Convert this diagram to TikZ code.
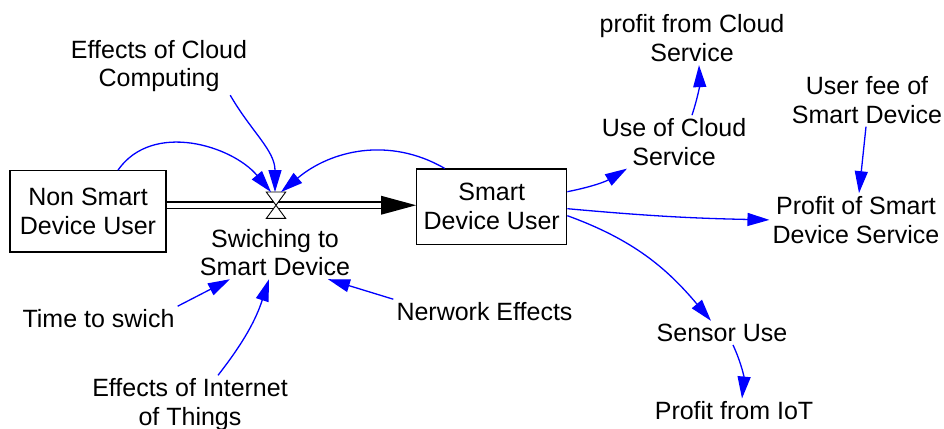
\documentclass[tikz,border=0pt]{standalone}
\usepackage{fontspec}
\setmainfont{Liberation Sans}
\usetikzlibrary{arrows.meta}

\begin{document}
\begin{tikzpicture}[x=1pt, y=1pt,
    every node/.style={font=\fontsize{25}{28.7}\selectfont},
    lbl/.style={align=center, inner sep=3pt},
    stock/.style={draw, line width=1.3pt, inner sep=0pt, align=center},
    link/.style={draw=blue, line width=1.3pt, -{Triangle[length=22pt,width=13pt]}},
    pipe/.style={double, double distance=4.6pt, line width=1.9pt},
    valve/.style={line width=0.9pt, fill=white}]
        \useasboundingbox (0,0) rectangle (944,428);

        % Nodes
        \node[stock, minimum width=156pt, minimum height=81.3pt] (nsu) at (88,216.6) {Non Smart\\Device User};
        \node[stock, minimum width=150pt, minimum height=75.3pt] (sdu) at (491.7,221.3) {Smart\\Device User};
        \node[minimum width=19pt, minimum height=26pt, inner sep=0pt] (vlv) at (276,222.75) {};
        \node[lbl] (swi) at (275,175.5) {Swiching to\\Smart Device};
        \node[lbl] (ecc) at (159,362) {Effects of Cloud\\Computing};
        \node[lbl] (tts) at (98.5,109.4) {Time to swich};
        \node[lbl] (eit) at (190,23.5) {Effects of Internet\\of Things};
        \node[lbl] (nwe) at (484.5,116.4) {Nerwork Effects};
        \node[lbl] (ucs) at (674,286.1) {Use of Cloud\\Service};
        \node[lbl] (pcs) at (692,389.6) {profit from Cloud\\Service};
        \node[lbl] (ufs) at (867,328.1) {User fee of\\Smart Device};
        \node[lbl] (pss) at (856,208.1) {Profit of Smart\\Device Service};
        \node[lbl] (snu) at (722,95.1) {Sensor Use};
        \node[lbl] (piot) at (734,17.1) {Profit from IoT};

        % Flow
        \coordinate (tip) at (sdu.west |- vlv);
        \draw[pipe, shorten >=34pt] (nsu.east |- vlv) -- (tip);
        \fill (tip) -- ++(-35,9.5) -- ++(0,-19) -- cycle;
        \draw[valve] (vlv.center) -- (vlv.north west) -- (vlv.north east) -- cycle
                     (vlv.center) -- (vlv.south west) -- (vlv.south east) -- cycle;

        % Edges
        \draw[link] ([xshift=30pt]nsu.north) to[out=55, in=130] ([xshift=-5pt]vlv.north);
        \draw[link] ([xshift=-20pt]ecc.south east) to[out=-60, in=90] ([xshift=-1pt]vlv.north);
        \draw[link] ([xshift=-47pt]sdu.north) to[out=150, in=40] ([xshift=5pt]vlv.north);
        \draw[link] (tts.north east) -- ([xshift=-45pt]swi.south);
        \draw[link] ([xshift=28pt]eit.north) to[bend right=10] ([xshift=-6pt]swi.south);
        \draw[link] (nwe.north west) -- ([xshift=53pt]swi.south);
        \draw[link] ([yshift=15pt]sdu.east) to[bend right=10] ([xshift=-47pt]ucs.south);
        \draw[link] ([xshift=18pt]ucs.north) to[bend right=10] ([xshift=7pt]pcs.south);
        \draw[link] ([xshift=-1pt]ufs.south) -- ([xshift=3pt]pss.north);
        \draw[link] ([yshift=-2pt]sdu.east) to[bend right=2] (pss.west);
        \draw[link] ([yshift=-9pt]sdu.east) to[out=-20, in=130] ([xshift=-11pt]snu.north);
        \draw[link] ([xshift=11pt]snu.south) to[bend left=15] ([xshift=8pt]piot.north);
    \end{tikzpicture}
\end{document}
